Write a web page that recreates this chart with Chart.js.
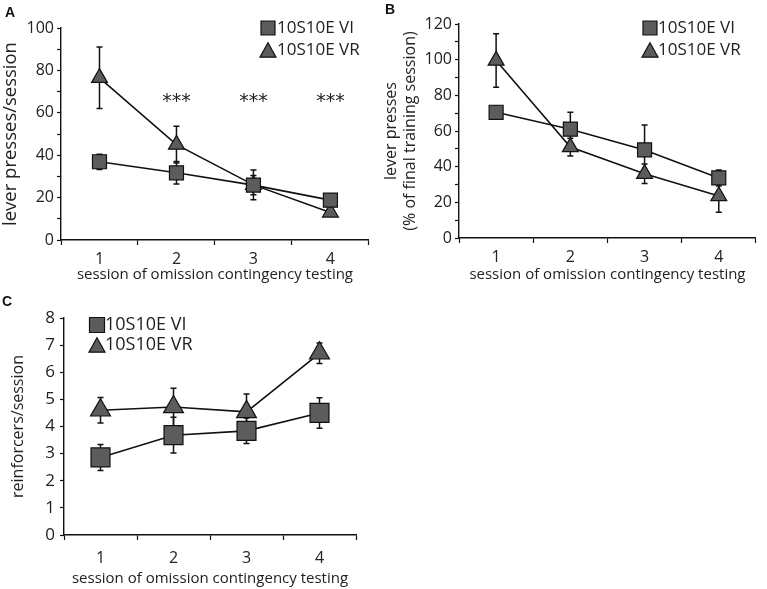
<!DOCTYPE html>
<html>
<head>
<meta charset="utf-8">
<script src="https://cdn.jsdelivr.net/npm/chart.js@4.4.1/dist/chart.umd.min.js"></script>
<style>
  body { margin: 0; background: #fff; }
  #wrap { position: relative; width: 767px; height: 589px; overflow: hidden; }
  canvas { position: absolute; }
  .tag { position: absolute; font: bold 14px "Liberation Sans", Arial, sans-serif; line-height: 14px; color: #111; }
</style>
</head>
<body>
<div id="wrap">
  <canvas id="chartA" width="380" height="290" style="left:0px;top:0px"></canvas>
  <canvas id="chartB" width="387" height="290" style="left:380px;top:0px"></canvas>
  <canvas id="chartC" width="380" height="299" style="left:0px;top:290px"></canvas>
  <div class="tag" style="left:5px;top:5px">A</div>
  <div class="tag" style="left:385px;top:2px">B</div>
  <div class="tag" style="left:2px;top:294px">C</div>
</div>
<script>
const sessions = ["1", "2", "3", "4"];
const seriesNames = ["10S10E VI", "10S10E VR"];
const xTitle = "session of omission contingency testing";

// A: lever presses/session (mean, sem)
const pressVI = [36.9, 31.7, 25.9, 18.8];
const pressVIsem = [3.6, 5.3, 4.5, 1.5];
const pressVR = [76.5, 45, 26, 13];
const pressVRsem = [14.5, 8.7, 7, 1.2];
const starsA = ["", "***", "***", "***"];
const starsLevel = 65;

// B: lever presses (% of final training session)
const pctVI = [70.5, 61, 49.4, 33.7];
const pctVIsem = [3.7, 9.5, 14, 4.5];
const pctVR = [99.5, 51, 36, 23.5];
const pctVRsem = [15, 5, 5.5, 9];

// C: reinforcers/session
const rfVI = [2.86, 3.68, 3.84, 4.5];
const rfVIsem = [0.48, 0.66, 0.47, 0.56];
const rfVR = [4.6, 4.72, 4.54, 6.7];
const rfVRsem = [0.47, 0.69, 0.66, 0.38];

const FONT = "'Open Sans', 'Noto Sans', sans-serif";
const INK = "#222";
const LINE = "#111";
const MARK = "#5c5c5c";

// sem whiskers, drawn under the markers
const errorBars = {
  id: "errorBars",
  beforeDatasetsDraw(chart) {
    const ctx = chart.ctx;
    const y = chart.scales.y;
    ctx.save();
    ctx.strokeStyle = LINE;
    ctx.lineWidth = 1.5;
    chart.data.datasets.forEach((ds, i) => {
      chart.getDatasetMeta(i).data.forEach((pt, j) => {
        const top = y.getPixelForValue(ds.data[j] + ds.sem[j]);
        const bot = y.getPixelForValue(ds.data[j] - ds.sem[j]);
        ctx.beginPath();
        ctx.moveTo(pt.x, top); ctx.lineTo(pt.x, bot);
        ctx.moveTo(pt.x - 3, top); ctx.lineTo(pt.x + 3, top);
        ctx.moveTo(pt.x - 3, bot); ctx.lineTo(pt.x + 3, bot);
        ctx.stroke();
      });
    });
    ctx.restore();
  }
};

function drawMarker(ctx, style, x, y, s) {
  ctx.beginPath();
  if (style === "rect") {
    ctx.rect(x - s / 2, y - s / 2, s, s);
  } else {
    const h = s * 0.9;
    ctx.moveTo(x, y - h / 2);
    ctx.lineTo(x + s / 2, y + h / 2);
    ctx.lineTo(x - s / 2, y + h / 2);
    ctx.closePath();
  }
  ctx.fillStyle = MARK;
  ctx.fill();
  ctx.lineWidth = 1.2;
  ctx.strokeStyle = LINE;
  ctx.stroke();
}

const boxLegend = {
  id: "boxLegend",
  afterDatasetsDraw(chart, args, opts) {
    const ctx = chart.ctx;
    ctx.save();
    chart.data.datasets.forEach((ds, i) => {
      const y = opts.rows[i];
      drawMarker(ctx, ds.pointStyle, opts.x, y, opts.size[i]);
      ctx.fillStyle = INK;
      ctx.font = opts.fontSize + "px " + FONT;
      ctx.textBaseline = "middle";
      ctx.textAlign = "left";
      ctx.fillText(ds.label, opts.textX, y);
    });
    ctx.restore();
  }
};

const stars = {
  id: "stars",
  afterDatasetsDraw(chart, args, opts) {
    if (!opts.labels) return;
    const ctx = chart.ctx;
    ctx.save();
    ctx.fillStyle = INK;
    ctx.font = "19px 'DejaVu Sans', sans-serif";
    ctx.textAlign = "center";
    ctx.textBaseline = "middle";
    opts.labels.forEach((t, j) => {
      if (!t) return;
      ctx.fillText(t, chart.scales.x.getPixelForValue(j), chart.scales.y.getPixelForValue(opts.level));
    });
    ctx.restore();
  }
};

function makePanel(id, p) {
  return new Chart(document.getElementById(id), {
    type: "line",
    data: {
      labels: sessions,
      datasets: [
        {
          label: seriesNames[0], data: p.vi, sem: p.viSem,
          pointStyle: "rect", pointRadius: p.sqR, pointHoverRadius: p.sqR,
          borderColor: LINE, borderWidth: 1.6, tension: 0,
          pointBackgroundColor: MARK, pointBorderColor: LINE, pointBorderWidth: 1.2
        },
        {
          label: seriesNames[1], data: p.vr, sem: p.vrSem,
          pointStyle: "triangle", pointRadius: p.triR, pointHoverRadius: p.triR,
          borderColor: LINE, borderWidth: 1.6, tension: 0,
          pointBackgroundColor: MARK, pointBorderColor: LINE, pointBorderWidth: 1.2
        }
      ]
    },
    options: {
      responsive: false,
      animation: false,
      clip: false,
      layout: { padding: { top: p.top, right: p.right, left: 0, bottom: 0 } },
      scales: {
        x: {
          offset: true,
          afterFit: (s) => { s.height = p.bottom; },
          border: { color: LINE, width: 1.4 },
          grid: { offset: true, drawOnChartArea: false, tickLength: 5, tickColor: LINE, tickWidth: 1.2 },
          ticks: { padding: p.xPad, color: INK, maxRotation: 0, font: { family: FONT, size: 16 } },
          title: {
            display: true, text: xTitle, color: INK,
            font: { family: FONT, size: 15, lineHeight: 1.2 },
            padding: { top: 0, bottom: p.xTitlePad }
          }
        },
        y: {
          min: 0, max: p.max,
          afterFit: (s) => { s.width = p.left; },
          border: { color: LINE, width: 1.4 },
          grid: { drawOnChartArea: false, tickLength: 4, tickColor: LINE, tickWidth: 1.2 },
          ticks: {
            stepSize: p.step, autoSkip: false, padding: p.yPad, color: INK,
            font: { family: FONT, size: p.yTickSize },
            callback: (v) => (v % p.labelEvery === 0 ? v : "")
          },
          title: {
            display: true, text: p.yTitle, color: INK,
            font: { family: FONT, size: p.yTitleSize, lineHeight: 1.2 },
            padding: { top: p.yTitlePad, bottom: 0 }
          }
        }
      },
      plugins: {
        legend: { display: false },
        tooltip: { enabled: false },
        boxLegend: p.legend,
        stars: p.stars || {}
      }
    },
    plugins: [errorBars, boxLegend, stars]
  });
}

makePanel("chartA", {
  vi: pressVI, viSem: pressVIsem, vr: pressVR, vrSem: pressVRsem,
  sqR: 9.9, triR: 9.2,
  top: 28, right: 11, left: 61, bottom: 50,
  max: 100, step: 10, labelEvery: 20, yTickSize: 16, yPad: 3,
  xPad: 5, xTitlePad: 6,
  yTitle: "lever presses/session", yTitleSize: 18.5, yTitlePad: 0,
  legend: { x: 268, textX: 277, rows: [28, 50], size: [14, 16], fontSize: 17 },
  stars: { labels: starsA, level: starsLevel }
});

makePanel("chartB", {
  vi: pctVI, viSem: pctVIsem, vr: pctVR, vrSem: pctVRsem,
  sqR: 9.9, triR: 9.2,
  top: 24, right: 2, left: 79, bottom: 52,
  max: 120, step: 10, labelEvery: 20, yTickSize: 16, yPad: 3,
  xPad: 5, xTitlePad: 6,
  yTitle: ["lever presses", "(% of final training session)"], yTitleSize: 16, yTitlePad: 1.5,
  legend: { x: 270, textX: 278, rows: [28, 50], size: [14, 16], fontSize: 17 }
});

makePanel("chartC", {
  vi: rfVI, viSem: rfVIsem, vr: rfVR, vrSem: rfVRsem,
  sqR: 13.4, triR: 11.5,
  top: 28, right: 24, left: 64, bottom: 54,
  max: 8, step: 1, labelEvery: 1, yTickSize: 17, yPad: 5,
  xPad: 9, xTitlePad: 1,
  yTitle: "reinforcers/session", yTitleSize: 16, yTitlePad: 9,
  legend: { x: 97, textX: 105, rows: [35, 55], size: [15, 16], fontSize: 18 }
});
</script>
</body>
</html>
